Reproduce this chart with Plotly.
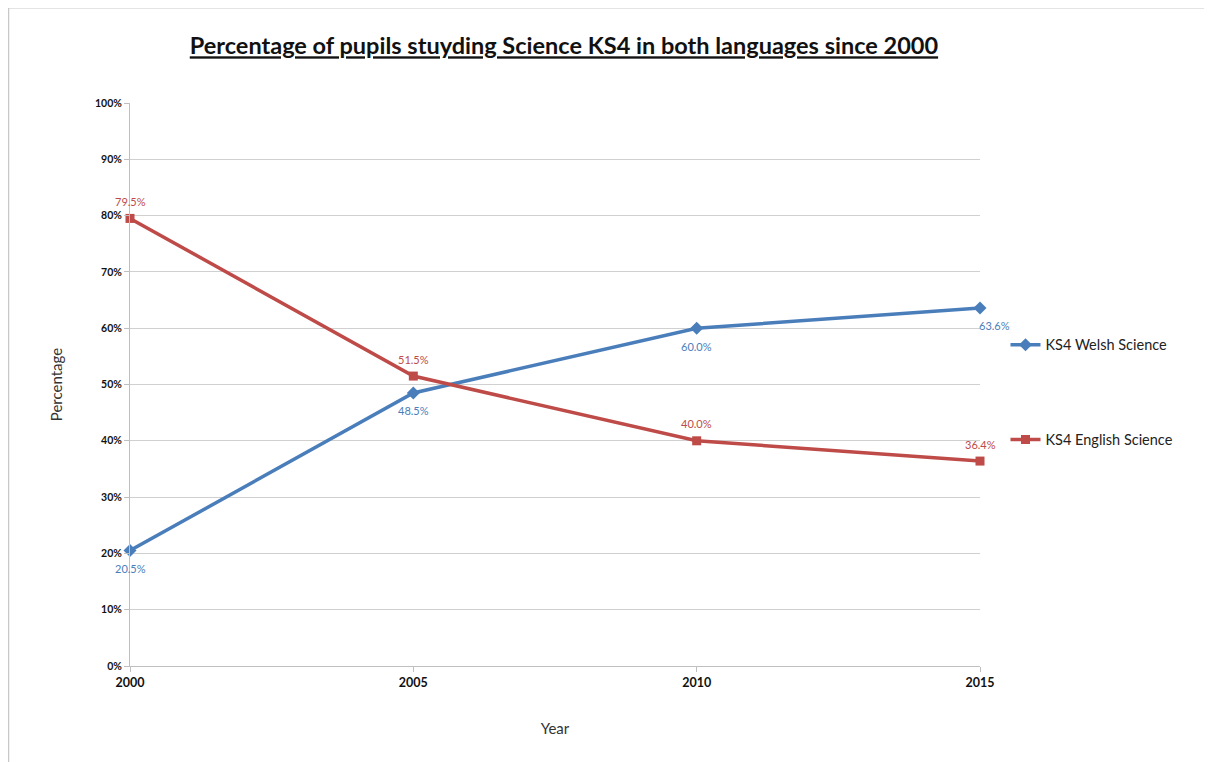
import plotly.graph_objects as go

years = ["2000", "2005", "2010", "2015"]
welsh = [20.5, 48.5, 60.0, 63.6]
english = [79.5, 51.5, 40.0, 36.4]
welsh_name = "KS4 Welsh Science"
english_name = "KS4 English Science"
title = "<u>Percentage of pupils stuyding Science KS4 in both languages since 2000</u>"

BLUE = "#4A7EBB"
RED = "#BE4B48"
FONT = "Lato, Open Sans, sans-serif"

fig = go.Figure()
fig.add_trace(go.Scatter(
    x=years, y=welsh, name=welsh_name, mode="lines+markers",
    line=dict(color=BLUE, width=3.5),
    marker=dict(symbol="diamond", size=10, color=BLUE),
    cliponaxis=False, legendgroup="a",
))
fig.add_trace(go.Scatter(
    x=years, y=english, name=english_name, mode="lines+markers",
    line=dict(color=RED, width=3.5),
    marker=dict(symbol="square", size=9, color=RED),
    cliponaxis=False, legendgroup="b",
))

# category axis: annotation x given as the category index
for i, v in enumerate(welsh):
    fig.add_annotation(x=i, y=v, xref="x", yref="y", text=f"{v:.1f}%", showarrow=False,
                       yshift=-18, xshift=(14 if i == len(welsh) - 1 else 0),
                       font=dict(color=BLUE, size=11, family=FONT))
for i, v in enumerate(english):
    fig.add_annotation(x=i, y=v, xref="x", yref="y", text=f"{v:.1f}%", showarrow=False,
                       yshift=17, font=dict(color=RED, size=11, family=FONT))

fig.update_layout(
    width=1212, height=762,
    paper_bgcolor="white", plot_bgcolor="white",
    margin=dict(l=122, r=240, t=95, b=104),
    font=dict(family=FONT, color="#222"),
    title=dict(text=title, x=0.4587, xanchor="center", y=0.95, yanchor="middle",
               font=dict(size=23.5, family=FONT, color="#111", weight="bold")),
    xaxis=dict(
        type="category", range=[0, 3], showgrid=False,
        showline=True, linecolor="#bfbfbf", linewidth=1,
        ticks="outside", ticklen=5, tickcolor="#bfbfbf",
        tickfont=dict(size=12.5, color="#111", weight="bold"),
        title=dict(text="Year", font=dict(size=15, color="#333"), standoff=34),
    ),
    yaxis=dict(
        range=[0, 100], dtick=10, ticksuffix="%",
        showgrid=True, gridcolor="#d0d0d0", gridwidth=1,
        showline=True, linecolor="#bfbfbf", linewidth=1,
        ticks="outside", ticklen=5, tickcolor="#bfbfbf",
        tickfont=dict(size=10.5, color="#111", weight="bold"),
        title=dict(text="Percentage", font=dict(size=15, color="#333"), standoff=28),
        zeroline=False,
    ),
    legend=dict(
        x=1.03, xanchor="left", y=0.599, yanchor="top",
        font=dict(size=14.5, color="#222"),
        tracegroupgap=73, itemwidth=30, bgcolor="rgba(0,0,0,0)",
    ),
    showlegend=True,
)

fig.add_shape(type="line", xref="paper", yref="paper",
              x0=-0.14294, x1=1.3, y0=1.169, y1=1.169,
              line=dict(color="#c8c8c8", width=1.5))
fig.add_shape(type="line", xref="paper", yref="paper",
              x0=-0.14294, x1=-0.14294, y0=1.169, y1=-0.25,
              line=dict(color="#c8c8c8", width=1.5))

fig.write_html("out.html")
